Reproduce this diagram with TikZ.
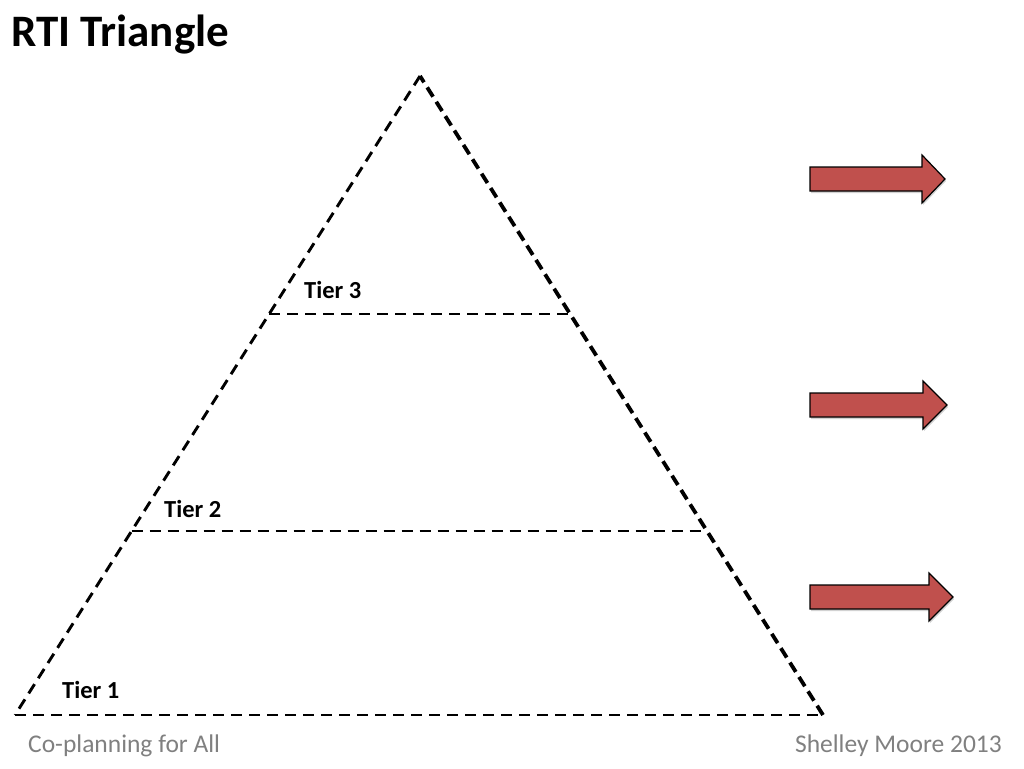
\documentclass[tikz,border=0pt]{standalone}
\usepackage{fontspec}
\setmainfont{Carlito}
\usetikzlibrary{shadows,calc}
\definecolor{arrowred}{RGB}{192,80,77}
\definecolor{footgray}{RGB}{128,128,128}
\begin{document}
\begin{tikzpicture}[x=1pt,y=-1pt,
  edge/.style={draw=black,line width=2.9pt,dash pattern=on 11pt off 7pt},
  thickedge/.style={draw=black,line width=3.8pt,dash pattern=on 11pt off 6pt},
  tier/.style={anchor=base west,inner sep=0pt,font=\fontsize{24.5}{28}\selectfont\bfseries},
  foot/.style={anchor=base west,inner sep=0pt,text=footgray,font=\fontsize{25.5}{30}\selectfont},
  redarrow/.style={fill=arrowred,draw=black,line width=1.2pt,line join=miter,
    drop shadow={shadow xshift=1pt,shadow yshift=-2pt,opacity=0.35}}]
\useasboundingbox[fill=white] (0,0) rectangle (1024,768);
% title
\node[anchor=base west,inner sep=0pt,font=\fontsize{45}{52}\selectfont\bfseries] (title) at (11,47) {RTI Triangle};
% triangle corners
\coordinate (apex) at (420,76);
\coordinate (bl) at (15,715);
\coordinate (br) at (823,715);
\coordinate (t3l) at ($(apex)!0.3725!(bl)$);
\coordinate (t3r) at ($(apex)!0.3725!(br)$);
\coordinate (t2l) at ($(apex)!0.712!(bl)$);
\coordinate (t2r) at ($(apex)!0.712!(br)$);
\draw[edge] (apex) -- (bl);
\draw[edge] (bl) -- (br);
\draw[thickedge] (br) -- (apex);
\draw[edge] (t3l) -- (t3r);
\draw[edge] (t2l) -- (t2r);
% tier labels
\node[tier] (tier3) at (304,298) {Tier 3};
\node[tier] (tier2) at (164,517) {Tier 2};
\node[tier] (tier1) at (62,698) {Tier 1};
% arrows
\draw[redarrow] (810,167) -- (922,167) -- (922,155) -- (945,179) -- (922,203) -- (922,191) -- (810,191) -- cycle;
\draw[redarrow] (810,393) -- (923,393) -- (923,381) -- (947,405) -- (923,429) -- (923,417) -- (810,417) -- cycle;
\draw[redarrow] (810,585) -- (929,585) -- (929,573) -- (953,597) -- (929,621) -- (929,609) -- (810,609) -- cycle;
% footer
\node[foot] (footl) at (28,752) {Co-planning for All};
\node[foot,anchor=base east] (footr) at (1002,752) {Shelley Moore 2013};
\end{tikzpicture}
\end{document}
